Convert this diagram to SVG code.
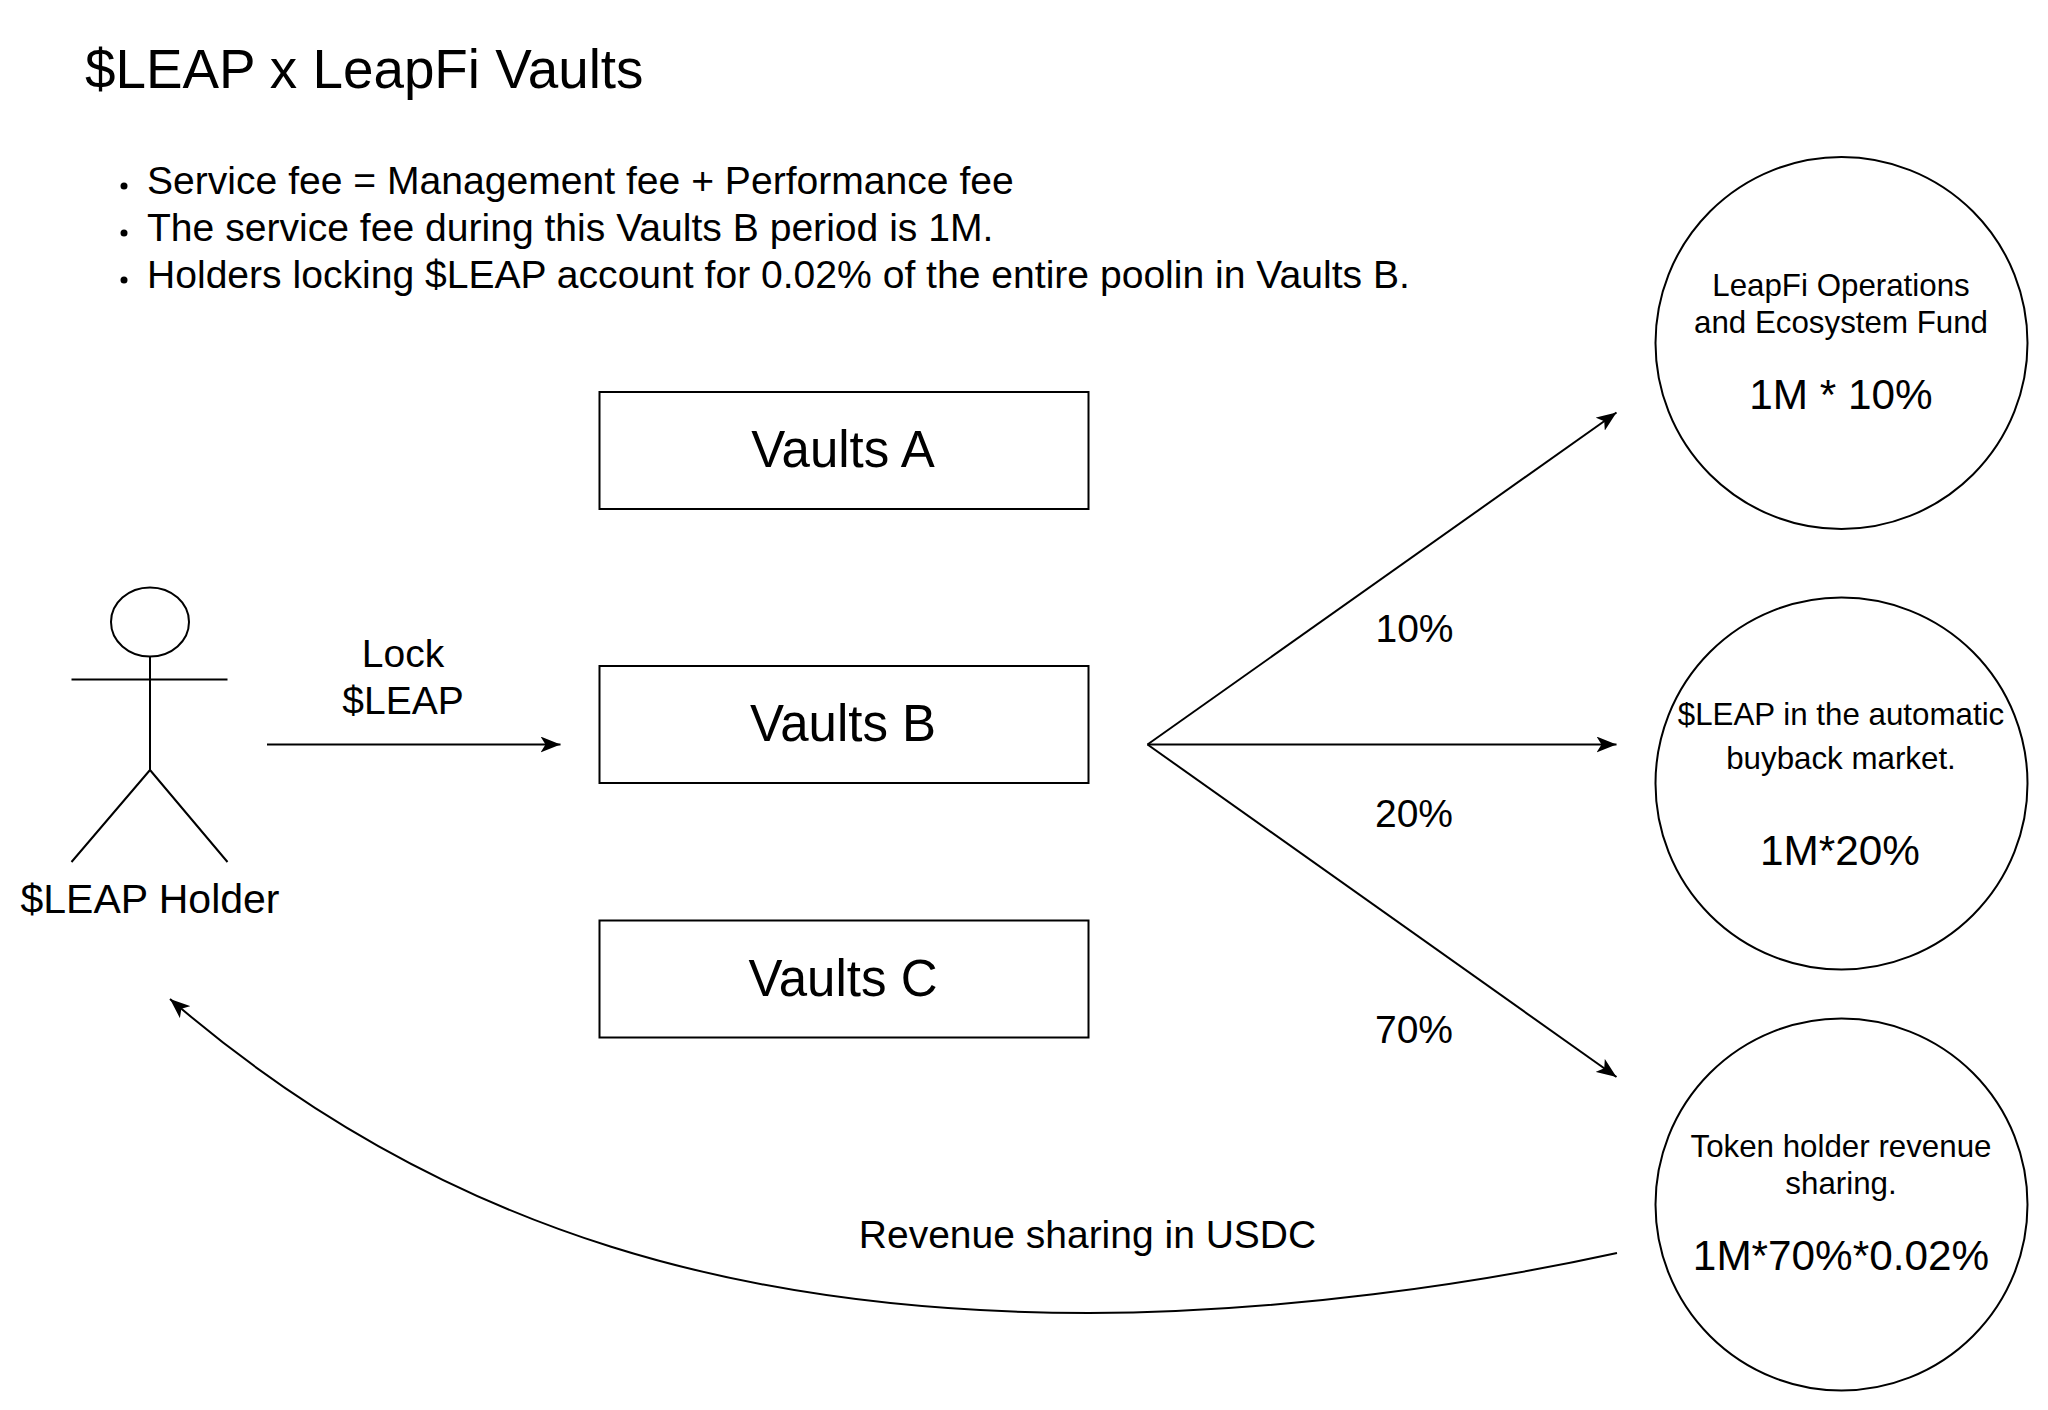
<svg xmlns="http://www.w3.org/2000/svg" width="2048" height="1410" viewBox="0 0 2048 1410">
<style>
text{font-family:"Liberation Sans",Arial,sans-serif;fill:#000}
.m{text-anchor:middle}
.s{fill:none;stroke:#000;stroke-width:2}
.n{fill:#fff;stroke:#000;stroke-width:2}
.c{fill:none;stroke:#000;stroke-width:2;marker-end:url(#a)}
</style>
<defs><marker id="a" markerUnits="userSpaceOnUse" markerWidth="22" markerHeight="16" refX="20" refY="8" orient="auto"><path d="M0 0L20 8L0 16L5 8Z" fill="#000"/></marker></defs>
<rect width="2048" height="1410" fill="#fff"/>
<text id="title" x="85" y="88" font-size="54.8">$LEAP x LeapFi Vaults</text>
<g id="notes" font-size="39.1">
<circle cx="124" cy="186" r="3.5"/><circle cx="124" cy="233" r="3.5"/><circle cx="124" cy="280" r="3.5"/>
<text x="147" y="194">Service fee = Management fee + Performance fee</text>
<text x="147" y="241">The service fee during this Vaults B period is 1M.</text>
<text x="147" y="288">Holders locking $LEAP account for 0.02% of the entire poolin in Vaults B.</text>
</g>
<g id="vaultA"><rect class="n" x="599.5" y="392" width="489" height="117"/><text class="m" x="843" y="467" font-size="51">Vaults A</text></g>
<g id="vaultB"><rect class="n" x="599.5" y="666" width="489" height="117"/><text class="m" x="843" y="741" font-size="51">Vaults B</text></g>
<g id="vaultC"><rect class="n" x="599.5" y="920.5" width="489" height="117"/><text class="m" x="843" y="996" font-size="51">Vaults C</text></g>
<g id="holder"><ellipse class="s" cx="150" cy="622" rx="39" ry="34.5"/><path class="s" d="M150 656.5V770M71.500 679.500H227.500M150 770L71.500 862M150 770L227.500 862"/><text class="m" x="150" y="913" font-size="41">$LEAP Holder</text></g>
<g id="fund"><circle class="n" cx="1841.500" cy="343" r="186"/><text class="m" x="1841" y="295.500" font-size="31.3">LeapFi Operations</text><text class="m" x="1841" y="332.500" font-size="31.3">and Ecosystem Fund</text><text class="m" x="1841" y="409" font-size="42.3">1M * 10%</text></g>
<g id="buyback"><circle class="n" cx="1841.500" cy="783.500" r="186"/><text class="m" x="1841" y="724.500" font-size="31.3">$LEAP in the automatic</text><text class="m" x="1841" y="768.500" font-size="31.3">buyback market.</text><text class="m" x="1840" y="865" font-size="42.3">1M*20%</text></g>
<g id="sharing"><circle class="n" cx="1841.500" cy="1204.500" r="186"/><text class="m" x="1841" y="1157" font-size="31.3">Token holder revenue</text><text class="m" x="1841" y="1194" font-size="31.3">sharing.</text><text class="m" x="1841" y="1270" font-size="42.3">1M*70%*0.02%</text></g>
<g id="connectors">
<path class="c" d="M267 744.500H560.500"/>
<path class="c" d="M1147.500 744.500L1616.500 412.500"/>
<path class="c" d="M1147.500 744.500H1616.500"/>
<path class="c" d="M1147.500 744.500L1616.500 1077"/>
<path class="c" d="M1617 1253C1480 1283 1280 1313 1089 1313C760 1313 450 1241 170 999"/>
</g>
<g id="labels" font-size="39">
<text class="m" x="403" y="667">Lock</text><text class="m" x="403" y="714">$LEAP</text>
<text class="m" x="1414.500" y="642">10%</text><text class="m" x="1414" y="827">20%</text><text class="m" x="1414" y="1043">70%</text>
<text class="m" x="1087.500" y="1248">Revenue sharing in USDC</text>
</g>
</svg>
